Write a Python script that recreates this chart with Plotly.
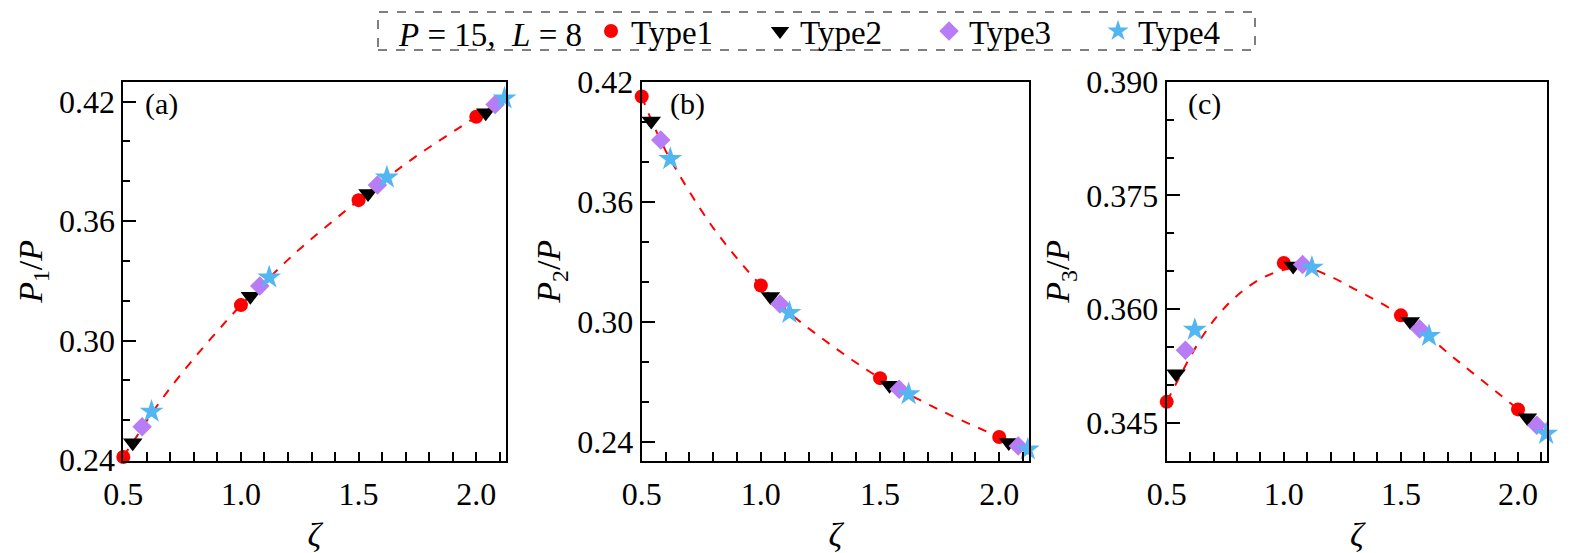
import plotly.graph_objects as go

# figure size (the page adds an 8px body margin on the top-left)
OFF = 8
FW, FH = 1573 - OFF, 553 - OFF

# ---- data ----
x_type1 = [0.5, 1.0, 1.5, 2.0]
x_type2 = [0.54, 1.04, 1.54, 2.04]
x_type3 = [0.58, 1.08, 1.58, 2.08]
x_type4 = [0.62, 1.12, 1.62, 2.12]

p1_type1 = [0.2415, 0.3178, 0.3705, 0.4124]
p1_type2 = [0.2487, 0.3223, 0.3739, 0.4144]
p1_type3 = [0.2567, 0.3274, 0.3781, 0.4186]
p1_type4 = [0.2643, 0.3317, 0.3819, 0.4216]

p2_type1 = [0.4126, 0.3182, 0.2719, 0.2425]
p2_type2 = [0.4004, 0.3127, 0.2684, 0.2397]
p2_type3 = [0.3909, 0.3090, 0.2664, 0.2380]
p2_type4 = [0.3814, 0.3045, 0.2639, 0.2363]

p3_type1 = [0.3478, 0.3661, 0.3592, 0.3468]
p3_type2 = [0.3515, 0.3657, 0.3584, 0.3457]
p3_type3 = [0.3546, 0.3659, 0.3574, 0.3447]
p3_type4 = [0.3573, 0.3655, 0.3565, 0.3436]

curve_a_x = [0.5, 0.58, 0.62, 0.75, 1.0, 1.12, 1.25, 1.5, 1.62, 1.75, 2.0, 2.12]
curve_a_y = [0.2417, 0.2560, 0.2633, 0.2838, 0.3178, 0.3315, 0.3460, 0.3705, 0.3817, 0.3930, 0.4124, 0.4213]

curve_b_x = [0.5, 0.54, 0.58, 0.62, 0.8, 1.0, 1.12, 1.3, 1.5, 1.75, 2.0, 2.12]
curve_b_y = [0.4126, 0.4010, 0.3905, 0.3812, 0.3470, 0.3182, 0.3045, 0.2880, 0.2719, 0.2560, 0.2425, 0.2365]

curve_c_x = [0.5, 0.55, 0.6, 0.65, 0.7, 0.75, 0.8, 0.85, 0.9, 0.95, 1.0, 1.05, 1.1, 1.2, 1.3, 1.5, 1.75, 2.0, 2.12]
curve_c_y = [0.3478, 0.3508, 0.3537, 0.3563, 0.3585, 0.3603, 0.3618, 0.3630, 0.3640, 0.3647, 0.3652, 0.3655,
             0.3655, 0.3643, 0.3627, 0.3592, 0.3530, 0.3468, 0.3436]

type_names = ["Type1", "Type2", "Type3", "Type4"]
type_symbols = ["circle", "triangle-down", "diamond", "star"]
type_colors = ["#ff0000", "#000000", "#b77cf6", "#52b6f0"]
type_sizes = [14, 17, 15, 18]


def fx(px):
    return (px - OFF) / FW


def fy(py):
    return 1 - (py - OFF) / FH


panels = [
    dict(xs=[x_type1, x_type2, x_type3, x_type4], ys=[p1_type1, p1_type2, p1_type3, p1_type4],
         cx=curve_a_x, cy=curve_a_y, yrange=[0.2395, 0.430], tick0=0.24, dtick=0.06, mdtick=0.02,
         fmt=".2f", title="<i>P</i><sub>1</sub>/<i>P</i>", label="(a)", dom=(123.3, 505.7), lx=0.100),
    dict(xs=[x_type1, x_type2, x_type3, x_type4], ys=[p2_type1, p2_type2, p2_type3, p2_type4],
         cx=curve_b_x, cy=curve_b_y, yrange=[0.2305, 0.420], tick0=0.24, dtick=0.06, mdtick=0.02,
         fmt=".2f", title="<i>P</i><sub>2</sub>/<i>P</i>", label="(b)", dom=(641.7, 1029.0), lx=0.118),
    dict(xs=[x_type1, x_type2, x_type3, x_type4], ys=[p3_type1, p3_type2, p3_type3, p3_type4],
         cx=curve_c_x, cy=curve_c_y, yrange=[0.340, 0.390], tick0=0.345, dtick=0.015, mdtick=0.005,
         fmt=".3f", title="<i>P</i><sub>3</sub>/<i>P</i>", label="(c)", dom=(1166.7, 1547.3), lx=0.100),
]

FONT = "Liberation Serif"
fig = go.Figure()
ytop, ybot = 81.7, 461.0
ydom = [fy(ybot), fy(ytop)]

annotations = []
for i, p in enumerate(panels):
    n = "" if i == 0 else str(i + 1)
    xa, ya = "x" + n, "y" + n
    fig.add_trace(go.Scatter(x=p["cx"], y=p["cy"], mode="lines", xaxis=xa, yaxis=ya,
                             line=dict(color="#ff0000", width=2, dash="dash", shape="spline", smoothing=1.0),
                             showlegend=False, hoverinfo="skip"))
    for k in range(4):
        fig.add_trace(go.Scatter(x=p["xs"][k], y=p["ys"][k], mode="markers", xaxis=xa, yaxis=ya,
                                 name=type_names[k], legendgroup=type_names[k], showlegend=(i == 0),
                                 cliponaxis=False,
                                 marker=dict(symbol=type_symbols[k], color=type_colors[k], size=type_sizes[k],
                                             line=dict(width=0))))
    axis_common = dict(showline=True, linecolor="black", linewidth=2, mirror=True, showgrid=False,
                       zeroline=False, ticks="inside", tickcolor="black", tickwidth=1.5, automargin=False,
                       tickfont=dict(family=FONT, size=32, color="black"))
    fig.layout["xaxis" + n] = dict(axis_common, domain=[fx(p["dom"][0]), fx(p["dom"][1])], anchor=ya,
                                   range=[0.5, 2.125], tick0=0.5, dtick=0.5, tickformat=".1f", ticklen=9,
                                   ticklabelstandoff=4,
                                   minor=dict(dtick=0.1, ticks="inside", ticklen=9, tickcolor="black", tickwidth=1.5),
                                   title=dict(text="<i>ζ</i>", font=dict(family=FONT, size=34, color="black"),
                                              standoff=12))
    fig.layout["yaxis" + n] = dict(axis_common, domain=ydom, anchor=xa,
                                   range=p["yrange"], tick0=p["tick0"], dtick=p["dtick"], tickformat=p["fmt"],
                                   ticklen=13,
                                   minor=dict(dtick=p["mdtick"], ticks="inside", ticklen=7, tickcolor="black",
                                              tickwidth=1.5),
                                   title=dict(text=p["title"], font=dict(family=FONT, size=34, color="black"),
                                              standoff=6))
    annotations.append(dict(text=p["label"], xref=xa + " domain", yref=ya + " domain", x=p["lx"], y=0.942,
                            showarrow=False, xanchor="center", yanchor="middle",
                            font=dict(family=FONT, size=30, color="black")))

fig.update_layout(
    width=FW, height=FH,
    margin=dict(l=0, r=0, t=0, b=0, autoexpand=False),
    paper_bgcolor="white", plot_bgcolor="white",
    font=dict(family=FONT, size=33, color="black"),
    annotations=annotations,
    legend=dict(orientation="h", x=fx(397), xanchor="left", y=fy(31), yanchor="middle",
                bgcolor="rgba(0,0,0,0)", borderwidth=0,
                font=dict(family=FONT, size=33, color="black"),
                title=dict(text="<i>P</i> = 15,  <i>L</i> = 8", side="left",
                           font=dict(family=FONT, size=33, color="black")),
                itemsizing="trace", entrywidth=124, entrywidthmode="pixels"),
    shapes=[dict(type="rect", xref="paper", yref="paper", x0=fx(378), x1=fx(1255), y0=fy(50), y1=fy(12),
                 line=dict(color="#555555", width=1.5, dash="dash"), fillcolor="rgba(0,0,0,0)", layer="above")],
)

fig.write_html("out.html")
